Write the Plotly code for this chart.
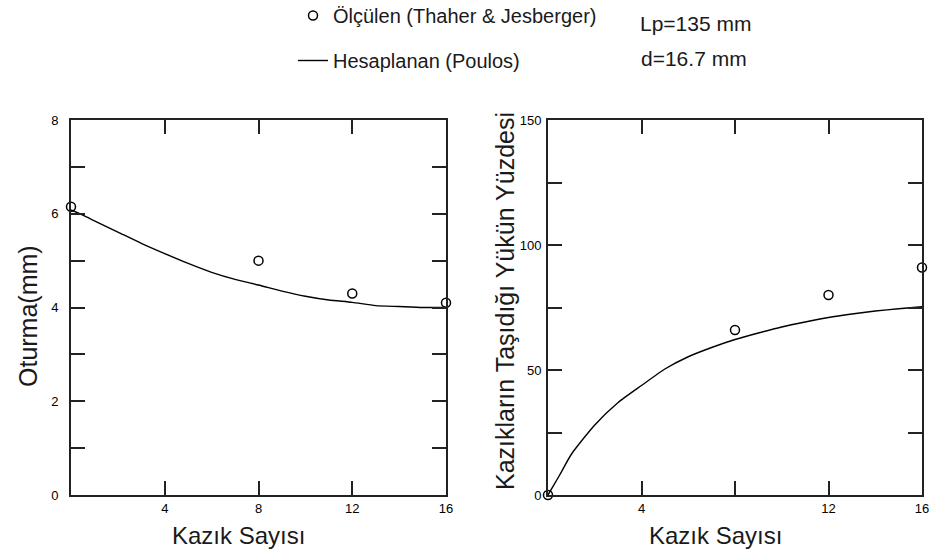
import plotly.graph_objects as go

# ---- data ----
pile_count_measured = [0, 8, 12, 16]
settlement_measured = [6.15, 5.0, 4.3, 4.1]
load_pct_measured = [0, 66, 80, 91]

pile_count_calc = [0, 0.5, 1, 2, 3, 4, 5, 6, 7, 8, 9, 10, 11, 12, 13, 14, 15, 16]
settlement_calc = [6.08, 5.97, 5.85, 5.61, 5.37, 5.15, 4.94, 4.75, 4.60, 4.48, 4.35, 4.24, 4.16, 4.11, 4.04, 4.02, 4.0, 4.0]
load_pct_calc = [0, 8, 16.3, 28, 37, 43.8, 50.4, 55.3, 59, 62.2, 64.8, 67.2, 69.2, 71, 72.4, 73.6, 74.5, 75.3]

left_xticks = [4, 8, 12, 16]
left_xtext = ["4", "8", "12", "16"]
right_xticks = [4, 8, 12, 16]
right_xtext = ["4", "", "12", "16"]
left_yticks = [0, 1, 2, 3, 4, 5, 6, 7, 8]
left_ytext = ["0", "", "2", "", "4", "", "6", "", "8"]
right_yticks = [0, 25, 50, 75, 100, 125, 150]
right_ytext = ["0", "", "50", "", "100", "", "150"]

name_meas = "Ölçülen (Thaher & Jesberger)"
name_calc = "Hesaplanan (Poulos)"

FONT = "Liberation Sans"
TXT = "#1a1a1a"
W, H = 937, 554

fig = go.Figure()

marker = dict(symbol="circle-open", size=9, color="black", line=dict(width=1.5, color="black"))
line = dict(color="black", width=1.4, shape="spline", smoothing=0.6)

fig.add_trace(go.Scatter(x=pile_count_measured, y=settlement_measured, mode="markers",
                         marker=marker, name=name_meas, legendgroup="a",
                         cliponaxis=False, xaxis="x", yaxis="y"))
fig.add_trace(go.Scatter(x=pile_count_calc, y=settlement_calc, mode="lines",
                         line=line, name=name_calc, legendgroup="b",
                         cliponaxis=False, xaxis="x", yaxis="y"))
fig.add_trace(go.Scatter(x=pile_count_measured, y=load_pct_measured, mode="markers",
                         marker=marker, name=name_meas, showlegend=False,
                         cliponaxis=False, xaxis="x2", yaxis="y2"))
fig.add_trace(go.Scatter(x=pile_count_calc, y=load_pct_calc, mode="lines",
                         line=line, name=name_calc, showlegend=False,
                         cliponaxis=False, xaxis="x2", yaxis="y2"))

ybot = 1 - 495 / H
ytop = 1 - 120 / H

axis_common = dict(showline=True, linecolor="#222", linewidth=2, mirror="ticks",
                   ticks="inside", ticklen=14, tickwidth=2, tickcolor="#222",
                   showgrid=False, zeroline=False, automargin=False,
                   tickfont=dict(family=FONT, size=13, color="black"))

fig.update_layout(
    template="none",
    width=W, height=H,
    margin=dict(l=0, r=0, t=0, b=0, pad=0, autoexpand=False),
    paper_bgcolor="white", plot_bgcolor="white",
    showlegend=True,
    legend=dict(x=293 / W, y=1 + 4 / H, xanchor="left", yanchor="top",
                font=dict(family=FONT, size=20, color=TXT),
                tracegroupgap=16, bgcolor="rgba(0,0,0,0)", borderwidth=0),
    xaxis=dict(domain=[71 / W, 446 / W], range=[0, 16], tickvals=left_xticks,
               ticktext=left_xtext, anchor="y", **axis_common),
    yaxis=dict(domain=[ybot, ytop], range=[0, 8], tickvals=left_yticks,
               ticktext=left_ytext, anchor="x", ticklabelstandoff=8, **axis_common),
    xaxis2=dict(domain=[548 / W, 922 / W], range=[0, 16], tickvals=right_xticks,
                ticktext=right_xtext, anchor="y2", **axis_common),
    yaxis2=dict(domain=[ybot, ytop], range=[0, 150], tickvals=right_yticks,
                ticktext=right_ytext, anchor="x2", ticklabelstandoff=2, **axis_common),
)

ann = [
    dict(text="Kazık Sayısı", x=239 / W, y=1 - 535 / H, size=24),
    dict(text="Kazık Sayısı", x=715 / W, y=1 - 535 / H, size=24),
    dict(text="Oturma(mm)", x=28 / W, y=1 - 316 / H, textangle=-90, size=25),
    dict(text="Kazıkların Taşıdığı Yükün Yüzdesi", x=505 / W, y=1 - 301 / H, textangle=-90, size=25),
]
for a in ann:
    size = a.pop("size")
    fig.add_annotation(xref="paper", yref="paper", xanchor="center", yanchor="middle",
                       showarrow=False, font=dict(family=FONT, size=size, color=TXT), **a)

for txt, xl, yc in [("Lp=135 mm", 638, 23), ("d=16.7 mm", 639, 59)]:
    fig.add_annotation(text=txt, xref="paper", yref="paper", x=xl / W, y=1 - yc / H,
                       xanchor="left", yanchor="middle", showarrow=False,
                       font=dict(family=FONT, size=21, color=TXT))

fig.write_html("out.html")
